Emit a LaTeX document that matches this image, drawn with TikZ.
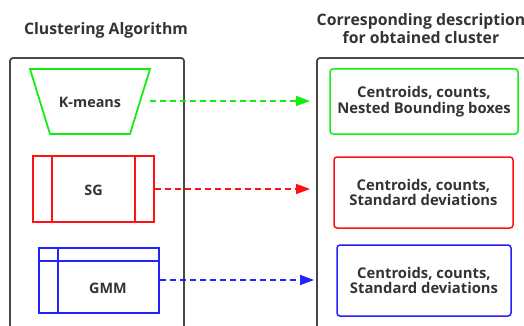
\documentclass[tikz,border=0pt]{standalone}
\usepackage{fontspec}
\setmainfont{Open Sans}
\usetikzlibrary{arrows.meta}
\definecolor{ink}{HTML}{333333}
\definecolor{frame}{HTML}{484848}
\definecolor{kgreen}{HTML}{11EE11}
\definecolor{sred}{HTML}{FF1111}
\definecolor{gblue}{HTML}{2222FF}
\tikzset{
  heading/.style={font=\bfseries\fontsize{15.8}{18}\selectfont, text=ink, align=center, inner sep=0pt},
  panel/.style={draw=frame, line width=1.8pt, rounded corners=3pt},
  algo/.style={draw=#1, line width=1.8pt, minimum width=121pt, minimum height=66pt, inner sep=0pt},
  label/.style={font=\bfseries\fontsize{14.4}{16}\selectfont, text=ink, inner sep=0pt},
  desc/.style={draw=#1, line width=1.5pt, rounded corners=3pt, align=center,
    font=\bfseries\fontsize{14.8}{15.5}\selectfont, text=ink, inner sep=0pt},
  link/.style={draw=#1, line width=1.6pt, dash pattern=on 6pt off 4pt,
    -{Triangle[length=14pt,width=10pt,fill=#1]}},
}
\begin{document}
\begin{tikzpicture}[x=1pt,y=-1pt]
\useasboundingbox (0,0) rectangle (524,326);
\clip (0,0) rectangle (524,326);

% column headings
\node[heading] (h1) at (106,30) {Clustering Algorithm};
\node[heading] (h2) at (421,29) {Corresponding description\\for obtained cluster};

% outer panels
\draw[panel] (10,340) -- (10,58) -- (184,58) -- (184,340);
\draw[panel] (317,340) -- (317,58) -- (540,58);

% K-means: inverted trapezoid
\draw[kgreen, line width=1.8pt] (30,69) -- (150,69) -- (130,134) -- (50,134) -- cycle;
\node[label] (km) at (90,102) {K-means};

% SG: rectangle with two side bars
\node[algo=sred] (sg) at (93.5,189) {};
\draw[sred, line width=1.8pt] (52,156) -- (52,222) (135,156) -- (135,222);
\node[label] (sgt) at (93.5,190) {SG};

% GMM: rectangle with header row and side column
\node[algo=gblue, minimum width=120pt, minimum height=65pt] (gmm) at (99,280.5) {};
\draw[gblue, line width=1.8pt] (39,261) -- (159,261) (58,248) -- (58,313);
\node[label] (gmmt) at (108,288) {GMM};

% description boxes
\node[desc=kgreen, minimum width=188pt, minimum height=65pt] (d1) at (424,101.5)
  {Centroids, counts,\\Nested Bounding boxes};
\node[desc=sred, minimum width=179pt, minimum height=71pt] (d2) at (423.5,192.5)
  {Centroids, counts,\\Standard deviations};
\node[desc=gblue, minimum width=174pt, minimum height=71pt] (d3) at (424,280.5)
  {Centroids, counts,\\Standard deviations};

% arrow anchors
\coordinate (ka) at (150,101);
\coordinate (kb) at (310,101);
\coordinate (sb) at (310,189);
\coordinate (gb) at (314,280);

\draw[link=kgreen] (ka) -- (kb);
\draw[link=sred] (sg.east) -- (sb);
\draw[link=gblue] (gmm.east |- gb) -- (gb);
\end{tikzpicture}
\end{document}
